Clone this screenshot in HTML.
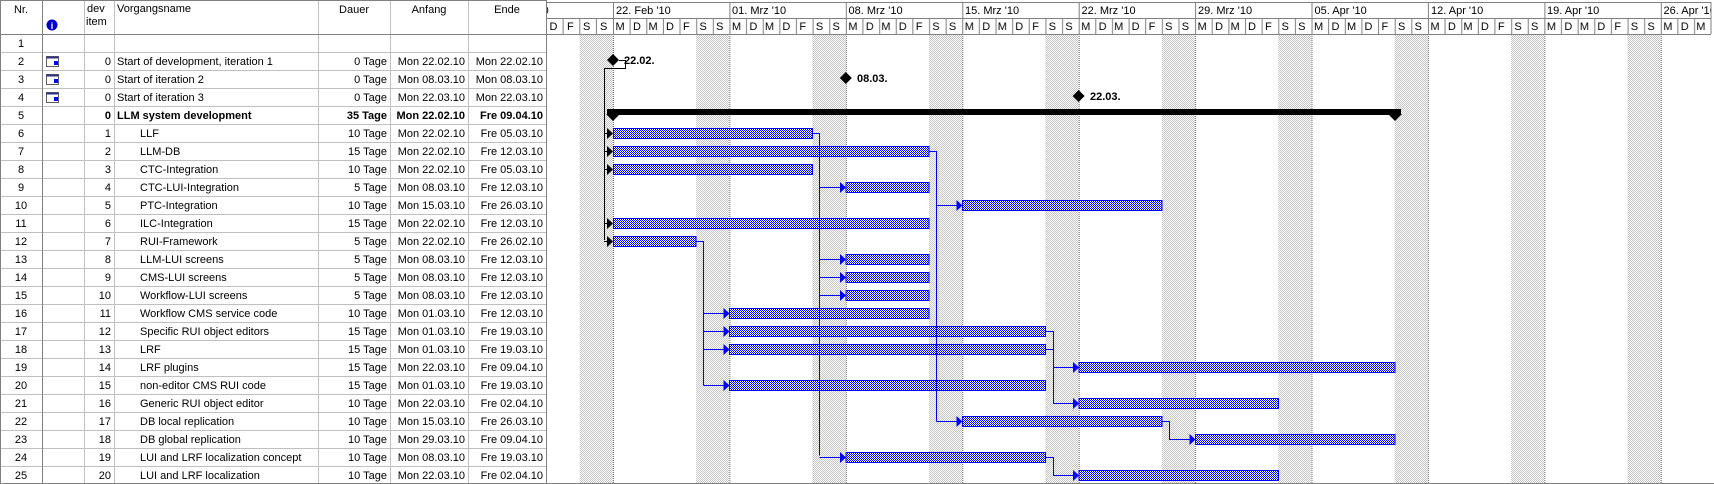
<!DOCTYPE html>
<html><head><meta charset="utf-8"><style>
html,body{margin:0;padding:0;background:#fff;}
svg{display:block;font-family:"Liberation Sans",Arial,sans-serif;font-size:11px;}
</style></head><body>
<svg width="1714" height="484" viewBox="0 0 1714 484" xmlns="http://www.w3.org/2000/svg">
<defs>
<pattern id="dots" width="2" height="2" patternUnits="userSpaceOnUse"><rect width="2" height="2" fill="#fff"/><rect width="1" height="1" fill="#c4c4c4"/><rect x="1" y="1" width="1" height="1" fill="#c4c4c4"/></pattern>
<pattern id="blue" width="2" height="2" patternUnits="userSpaceOnUse"><rect width="2" height="2" fill="#fff"/><rect width="1" height="1" fill="#0000ff"/><rect x="1" y="1" width="1" height="1" fill="#0000ff"/></pattern>
<pattern id="dayhdr" x="613" y="18" width="116.42" height="16" patternUnits="userSpaceOnUse">
<g stroke="#808080" stroke-width="1"><line x1="0.5" y1="0" x2="0.5" y2="16"/><line x1="17.1" y1="0" x2="17.1" y2="16"/><line x1="33.8" y1="0" x2="33.8" y2="16"/><line x1="50.4" y1="0" x2="50.4" y2="16"/><line x1="67" y1="0" x2="67" y2="16"/><line x1="83.7" y1="0" x2="83.7" y2="16"/><line x1="100.3" y1="0" x2="100.3" y2="16"/></g>
<g fill="#000"><text x="2.5" y="12">M</text><text x="20" y="12">D</text><text x="35.5" y="12">M</text><text x="53" y="12">D</text><text x="70" y="12">F</text><text x="86.5" y="12">S</text><text x="103" y="12">S</text></g>
</pattern>
<clipPath id="tl"><rect x="546" y="0" width="1165" height="484"/></clipPath>
</defs>

<g clip-path="url(#tl)">
<g fill="url(#dots)">
<rect x="579.7" y="34" width="33.3" height="450"/><rect x="696.1" y="34" width="33.3" height="450"/><rect x="812.5" y="34" width="33.3" height="450"/><rect x="929" y="34" width="33.3" height="450"/><rect x="1045.4" y="34" width="33.3" height="450"/><rect x="1161.8" y="34" width="33.3" height="450"/><rect x="1278.2" y="34" width="33.3" height="450"/><rect x="1394.6" y="34" width="33.3" height="450"/><rect x="1511.1" y="34" width="33.3" height="450"/><rect x="1627.5" y="34" width="33.3" height="450"/>
</g>
<g stroke="#707070" stroke-dasharray="1,1"><line x1="613.5" y1="34" x2="613.5" y2="484"/><line x1="729.9" y1="34" x2="729.9" y2="484"/><line x1="846.3" y1="34" x2="846.3" y2="484"/><line x1="962.8" y1="34" x2="962.8" y2="484"/><line x1="1079.2" y1="34" x2="1079.2" y2="484"/><line x1="1195.6" y1="34" x2="1195.6" y2="484"/><line x1="1312" y1="34" x2="1312" y2="484"/><line x1="1428.4" y1="34" x2="1428.4" y2="484"/><line x1="1544.9" y1="34" x2="1544.9" y2="484"/><line x1="1661.3" y1="34" x2="1661.3" y2="484"/></g>
<rect x="546" y="18" width="1165" height="16" fill="url(#dayhdr)"/>
<rect x="546" y="18" width="67" height="16" fill="#fff"/>
<g stroke="#808080"><line x1="563.1" y1="18" x2="563.1" y2="34"/><line x1="579.8" y1="18" x2="579.8" y2="34"/><line x1="596.4" y1="18" x2="596.4" y2="34"/></g>
<g><text x="549.5" y="30">D</text><text x="567" y="30">F</text><text x="583" y="30">S</text><text x="600" y="30">S</text></g>
<g stroke="#808080"><line x1="546" y1="2.5" x2="1714" y2="2.5"/><line x1="546" y1="18.5" x2="1714" y2="18.5"/><line x1="546" y1="34.5" x2="1714" y2="34.5"/>
<line x1="613.5" y1="2" x2="613.5" y2="18"/><line x1="729.9" y1="2" x2="729.9" y2="18"/><line x1="846.3" y1="2" x2="846.3" y2="18"/><line x1="962.8" y1="2" x2="962.8" y2="18"/><line x1="1079.2" y1="2" x2="1079.2" y2="18"/><line x1="1195.6" y1="2" x2="1195.6" y2="18"/><line x1="1312" y1="2" x2="1312" y2="18"/><line x1="1428.4" y1="2" x2="1428.4" y2="18"/><line x1="1544.9" y1="2" x2="1544.9" y2="18"/><line x1="1661.3" y1="2" x2="1661.3" y2="18"/></g>
<g><text x="494" y="14">15. Feb '10</text><text x="616" y="14">22. Feb '10</text><text x="732" y="14">01. Mrz '10</text><text x="848.5" y="14">08. Mrz '10</text><text x="965" y="14">15. Mrz '10</text><text x="1081.5" y="14">22. Mrz '10</text><text x="1198" y="14">29. Mrz '10</text><text x="1314.5" y="14">05. Apr '10</text><text x="1431" y="14">12. Apr '10</text><text x="1547" y="14">19. Apr '10</text><text x="1663.5" y="14">26. Apr '10</text></g>
</g>
<line x1="1711" y1="2" x2="1711" y2="34" stroke="#808080"/>

<g fill="#000">
<polygon points="613,54 619,60 613,66 607,60"/><polygon points="845.8,72 851.8,78 845.8,84 839.8,78"/><polygon points="1078.6,90 1084.6,96 1078.6,102 1072.6,96"/>
</g>
<g font-weight="bold"><text x="624" y="64">22.02.</text><text x="857" y="82">08.03.</text><text x="1090" y="100">22.03.</text></g>
<rect x="607" y="109" width="794" height="6" fill="#000"/>
<polygon points="606,114 620,114 613,121" fill="#000"/><polygon points="1388,114 1402,114 1395,121" fill="#000"/>
<g stroke="#000" fill="none"><polyline points="619,60.5 625.5,60.5 625.5,68.5 604.5,68.5 604.5,240"/>
<line x1="604" y1="133.5" x2="609" y2="133.5"/><line x1="604" y1="151.5" x2="609" y2="151.5"/><line x1="604" y1="169.5" x2="609" y2="169.5"/><line x1="604" y1="223.5" x2="609" y2="223.5"/><line x1="604" y1="241.5" x2="609" y2="241.5"/></g>
<g fill="#000"><polygon points="607,128 613,133.5 607,139"/><polygon points="607,146 613,151.5 607,157"/><polygon points="607,164 613,169.5 607,175"/><polygon points="607,218 613,223.5 607,229"/><polygon points="607,236 613,241.5 607,247"/></g>

<g fill="url(#blue)" stroke="#0000ff" stroke-width="1">
<rect x="613.5" y="128.5" width="199" height="10"/>
<rect x="613.5" y="146.5" width="315.5" height="10"/>
<rect x="613.5" y="164.5" width="199" height="10"/>
<rect x="846" y="182.5" width="83" height="10"/>
<rect x="962.5" y="200.5" width="199.5" height="10"/>
<rect x="613.5" y="218.5" width="315.5" height="10"/>
<rect x="613.5" y="236.5" width="82.5" height="10"/>
<rect x="846" y="254.5" width="83" height="10"/>
<rect x="846" y="272.5" width="83" height="10"/>
<rect x="846" y="290.5" width="83" height="10"/>
<rect x="729.5" y="308.5" width="199.5" height="10"/>
<rect x="729.5" y="326.5" width="316" height="10"/>
<rect x="729.5" y="344.5" width="316" height="10"/>
<rect x="1079" y="362.5" width="316" height="10"/>
<rect x="729.5" y="380.5" width="316" height="10"/>
<rect x="1079" y="398.5" width="199.5" height="10"/>
<rect x="962.5" y="416.5" width="199.5" height="10"/>
<rect x="1195.5" y="434.5" width="199.5" height="10"/>
<rect x="846" y="452.5" width="199.5" height="10"/>
<rect x="1079" y="470.5" width="199.5" height="10"/>
</g>
<g stroke="#0000ff" fill="none">
<polyline points="812.5,133.5 819.5,133.5 819.5,455.5"/>
<line x1="819.5" y1="187.5" x2="841" y2="187.5"/><line x1="819.5" y1="259.5" x2="841" y2="259.5"/><line x1="819.5" y1="277.5" x2="841" y2="277.5"/><line x1="819.5" y1="295.5" x2="841" y2="295.5"/><line x1="819.5" y1="457.5" x2="841" y2="457.5"/>
<polyline points="929,151.5 936.5,151.5 936.5,421.5"/>
<line x1="936.5" y1="205.5" x2="957" y2="205.5"/><line x1="936.5" y1="421.5" x2="957" y2="421.5"/>
<polyline points="696,241.5 703.5,241.5 703.5,385.5"/>
<line x1="703.5" y1="313.5" x2="724" y2="313.5"/><line x1="703.5" y1="331.5" x2="724" y2="331.5"/><line x1="703.5" y1="349.5" x2="724" y2="349.5"/><line x1="703.5" y1="385.5" x2="724" y2="385.5"/>
<polyline points="1045.5,331.5 1053.5,331.5 1053.5,403.5 1073,403.5"/><line x1="1045.5" y1="349.5" x2="1053.5" y2="349.5"/><line x1="1053.5" y1="367.5" x2="1073" y2="367.5"/>
<polyline points="1162,421.5 1169.5,421.5 1169.5,439.5 1190,439.5"/>
<polyline points="1045.5,457.5 1053.5,457.5 1053.5,475.5 1073,475.5"/>
</g>
<g fill="#0000ff">
<polygon points="840,182 846,187.5 840,193"/><polygon points="840,254 846,259.5 840,265"/><polygon points="840,272 846,277.5 840,283"/><polygon points="840,290 846,295.5 840,301"/><polygon points="840,452 846,457.5 840,463"/>
<polygon points="956.5,200 962.5,205.5 956.5,211"/><polygon points="956.5,416 962.5,421.5 956.5,427"/>
<polygon points="723.5,308 729.5,313.5 723.5,319"/><polygon points="723.5,326 729.5,331.5 723.5,337"/><polygon points="723.5,344 729.5,349.5 723.5,355"/><polygon points="723.5,380 729.5,385.5 723.5,391"/>
<polygon points="1073,362 1079,367.5 1073,373"/><polygon points="1073,398 1079,403.5 1073,409"/><polygon points="1189.5,434 1195.5,439.5 1189.5,445"/><polygon points="1073,470 1079,475.5 1073,481"/>
</g>

<g stroke="#c0c0c0" stroke-width="1">
<line x1="0" y1="52.5" x2="546" y2="52.5"/><line x1="0" y1="70.5" x2="546" y2="70.5"/><line x1="0" y1="88.5" x2="546" y2="88.5"/><line x1="0" y1="106.5" x2="546" y2="106.5"/><line x1="0" y1="124.5" x2="546" y2="124.5"/><line x1="0" y1="142.5" x2="546" y2="142.5"/><line x1="0" y1="160.5" x2="546" y2="160.5"/><line x1="0" y1="178.5" x2="546" y2="178.5"/><line x1="0" y1="196.5" x2="546" y2="196.5"/><line x1="0" y1="214.5" x2="546" y2="214.5"/><line x1="0" y1="232.5" x2="546" y2="232.5"/><line x1="0" y1="250.5" x2="546" y2="250.5"/><line x1="0" y1="268.5" x2="546" y2="268.5"/><line x1="0" y1="286.5" x2="546" y2="286.5"/><line x1="0" y1="304.5" x2="546" y2="304.5"/><line x1="0" y1="322.5" x2="546" y2="322.5"/><line x1="0" y1="340.5" x2="546" y2="340.5"/><line x1="0" y1="358.5" x2="546" y2="358.5"/><line x1="0" y1="376.5" x2="546" y2="376.5"/><line x1="0" y1="394.5" x2="546" y2="394.5"/><line x1="0" y1="412.5" x2="546" y2="412.5"/><line x1="0" y1="430.5" x2="546" y2="430.5"/><line x1="0" y1="448.5" x2="546" y2="448.5"/><line x1="0" y1="466.5" x2="546" y2="466.5"/>
<line x1="84.5" y1="0" x2="84.5" y2="484"/><line x1="114.5" y1="0" x2="114.5" y2="484"/><line x1="318.5" y1="0" x2="318.5" y2="484"/><line x1="390.5" y1="0" x2="390.5" y2="484"/><line x1="468.5" y1="0" x2="468.5" y2="484"/>
</g>
<g stroke="#808080"><line x1="0" y1="34.5" x2="546" y2="34.5"/><line x1="0.5" y1="0" x2="0.5" y2="484"/><line x1="42.5" y1="0" x2="42.5" y2="484"/><line x1="546.5" y1="0" x2="546.5" y2="484"/><line x1="0" y1="483.5" x2="1714" y2="483.5"/><line x1="0" y1="0.5" x2="546" y2="0.5"/></g>

<text x="21" y="13" text-anchor="middle">Nr.</text>
<circle cx="52" cy="25" r="5.5" fill="#0000cc"/><text x="52" y="29" text-anchor="middle" fill="#fff" font-weight="bold" font-size="9">i</text>
<text x="87" y="12">dev</text><text x="86" y="25">item</text>
<text x="117" y="12">Vorgangsname</text>
<text x="354" y="13" text-anchor="middle">Dauer</text>
<text x="429" y="13" text-anchor="middle">Anfang</text>
<text x="507" y="13" text-anchor="middle">Ende</text>

<g>
<rect x="46.5" y="56.5" width="12" height="10" fill="#fff" stroke="#606060"/><rect x="46.5" y="56.5" width="12" height="2" fill="#303080"/><rect x="54" y="61" width="4" height="4" fill="#0000ff"/>
<rect x="46.5" y="74.5" width="12" height="10" fill="#fff" stroke="#606060"/><rect x="46.5" y="74.5" width="12" height="2" fill="#303080"/><rect x="54" y="79" width="4" height="4" fill="#0000ff"/>
<rect x="46.5" y="92.5" width="12" height="10" fill="#fff" stroke="#606060"/><rect x="46.5" y="92.5" width="12" height="2" fill="#303080"/><rect x="54" y="97" width="4" height="4" fill="#0000ff"/>
</g>

<g text-anchor="middle">
<text x="21" y="47">1</text><text x="21" y="65">2</text><text x="21" y="83">3</text><text x="21" y="101">4</text><text x="21" y="119">5</text><text x="21" y="137">6</text><text x="21" y="155">7</text><text x="21" y="173">8</text><text x="21" y="191">9</text><text x="21" y="209">10</text><text x="21" y="227">11</text><text x="21" y="245">12</text><text x="21" y="263">13</text><text x="21" y="281">14</text><text x="21" y="299">15</text><text x="21" y="317">16</text><text x="21" y="335">17</text><text x="21" y="353">18</text><text x="21" y="371">19</text><text x="21" y="389">20</text><text x="21" y="407">21</text><text x="21" y="425">22</text><text x="21" y="443">23</text><text x="21" y="461">24</text><text x="21" y="479">25</text>
</g>
<g text-anchor="end">
<text x="111" y="65">0</text><text x="111" y="83">0</text><text x="111" y="101">0</text><text x="111" y="119" font-weight="bold">0</text><text x="111" y="137">1</text><text x="111" y="155">2</text><text x="111" y="173">3</text><text x="111" y="191">4</text><text x="111" y="209">5</text><text x="111" y="227">6</text><text x="111" y="245">7</text><text x="111" y="263">8</text><text x="111" y="281">9</text><text x="111" y="299">10</text><text x="111" y="317">11</text><text x="111" y="335">12</text><text x="111" y="353">13</text><text x="111" y="371">14</text><text x="111" y="389">15</text><text x="111" y="407">16</text><text x="111" y="425">17</text><text x="111" y="443">18</text><text x="111" y="461">19</text><text x="111" y="479">20</text>
</g>
<text x="117" y="65">Start of development, iteration 1</text>
<text x="117" y="83">Start of iteration 2</text>
<text x="117" y="101">Start of iteration 3</text>
<text x="117" y="119" font-weight="bold">LLM system development</text>
<g>
<text x="140" y="137">LLF</text><text x="140" y="155">LLM-DB</text><text x="140" y="173">CTC-Integration</text><text x="140" y="191">CTC-LUI-Integration</text><text x="140" y="209">PTC-Integration</text><text x="140" y="227">ILC-Integration</text><text x="140" y="245">RUI-Framework</text><text x="140" y="263">LLM-LUI screens</text><text x="140" y="281">CMS-LUI screens</text><text x="140" y="299">Workflow-LUI screens</text><text x="140" y="317">Workflow CMS service code</text><text x="140" y="335">Specific RUI object editors</text><text x="140" y="353">LRF</text><text x="140" y="371">LRF plugins</text><text x="140" y="389">non-editor CMS RUI code</text><text x="140" y="407">Generic RUI object editor</text><text x="140" y="425">DB local replication</text><text x="140" y="443">DB global replication</text><text x="140" y="461">LUI and LRF localization concept</text><text x="140" y="479">LUI and LRF localization</text>
</g>
<g text-anchor="end">
<text x="387" y="65">0 Tage</text><text x="387" y="83">0 Tage</text><text x="387" y="101">0 Tage</text><text x="387" y="119" font-weight="bold">35 Tage</text><text x="387" y="137">10 Tage</text><text x="387" y="155">15 Tage</text><text x="387" y="173">10 Tage</text><text x="387" y="191">5 Tage</text><text x="387" y="209">10 Tage</text><text x="387" y="227">15 Tage</text><text x="387" y="245">5 Tage</text><text x="387" y="263">5 Tage</text><text x="387" y="281">5 Tage</text><text x="387" y="299">5 Tage</text><text x="387" y="317">10 Tage</text><text x="387" y="335">15 Tage</text><text x="387" y="353">15 Tage</text><text x="387" y="371">15 Tage</text><text x="387" y="389">15 Tage</text><text x="387" y="407">10 Tage</text><text x="387" y="425">10 Tage</text><text x="387" y="443">10 Tage</text><text x="387" y="461">10 Tage</text><text x="387" y="479">10 Tage</text>
</g>
<g text-anchor="end">
<text x="465" y="65">Mon 22.02.10</text><text x="465" y="83">Mon 08.03.10</text><text x="465" y="101">Mon 22.03.10</text><text x="465" y="119" font-weight="bold">Mon 22.02.10</text><text x="465" y="137">Mon 22.02.10</text><text x="465" y="155">Mon 22.02.10</text><text x="465" y="173">Mon 22.02.10</text><text x="465" y="191">Mon 08.03.10</text><text x="465" y="209">Mon 15.03.10</text><text x="465" y="227">Mon 22.02.10</text><text x="465" y="245">Mon 22.02.10</text><text x="465" y="263">Mon 08.03.10</text><text x="465" y="281">Mon 08.03.10</text><text x="465" y="299">Mon 08.03.10</text><text x="465" y="317">Mon 01.03.10</text><text x="465" y="335">Mon 01.03.10</text><text x="465" y="353">Mon 01.03.10</text><text x="465" y="371">Mon 22.03.10</text><text x="465" y="389">Mon 01.03.10</text><text x="465" y="407">Mon 22.03.10</text><text x="465" y="425">Mon 15.03.10</text><text x="465" y="443">Mon 29.03.10</text><text x="465" y="461">Mon 08.03.10</text><text x="465" y="479">Mon 22.03.10</text>
</g>
<g text-anchor="end">
<text x="543" y="65">Mon 22.02.10</text><text x="543" y="83">Mon 08.03.10</text><text x="543" y="101">Mon 22.03.10</text><text x="543" y="119" font-weight="bold">Fre 09.04.10</text><text x="543" y="137">Fre 05.03.10</text><text x="543" y="155">Fre 12.03.10</text><text x="543" y="173">Fre 05.03.10</text><text x="543" y="191">Fre 12.03.10</text><text x="543" y="209">Fre 26.03.10</text><text x="543" y="227">Fre 12.03.10</text><text x="543" y="245">Fre 26.02.10</text><text x="543" y="263">Fre 12.03.10</text><text x="543" y="281">Fre 12.03.10</text><text x="543" y="299">Fre 12.03.10</text><text x="543" y="317">Fre 12.03.10</text><text x="543" y="335">Fre 19.03.10</text><text x="543" y="353">Fre 19.03.10</text><text x="543" y="371">Fre 09.04.10</text><text x="543" y="389">Fre 19.03.10</text><text x="543" y="407">Fre 02.04.10</text><text x="543" y="425">Fre 26.03.10</text><text x="543" y="443">Fre 09.04.10</text><text x="543" y="461">Fre 19.03.10</text><text x="543" y="479">Fre 02.04.10</text>
</g>
</svg>
</body></html>
